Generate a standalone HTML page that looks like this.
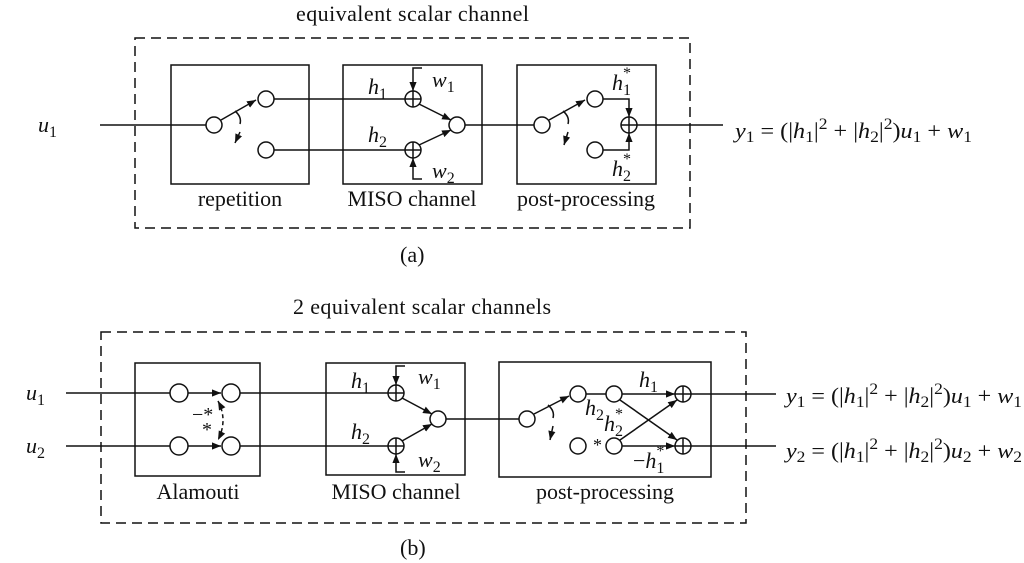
<!DOCTYPE html>
<html><head><meta charset="utf-8"><style>
html,body{margin:0;padding:0;background:#fff}
svg{display:block}
text{font-family:"Liberation Serif",serif;fill:#111}
.i{font-style:italic}
</style></head><body>
<svg width="1024" height="563" viewBox="0 0 1024 563" xmlns="http://www.w3.org/2000/svg">
<defs>
<marker id="a" viewBox="0 0 10 10" refX="10" refY="5" markerWidth="9" markerHeight="9" markerUnits="userSpaceOnUse" orient="auto"><path d="M0,1 L10,5 L0,9 z" fill="#111"/></marker>
<marker id="b" viewBox="0 0 10 10" refX="10" refY="5" markerWidth="9" markerHeight="9" markerUnits="userSpaceOnUse" orient="auto-start-reverse"><path d="M0,1 L10,5 L0,9 z" fill="#111"/></marker>
</defs>
<g stroke="#111" stroke-width="1.5" fill="none">
<!-- ===== (a) ===== -->
<rect x="135" y="38" width="555" height="190" stroke-dasharray="10,6"/>
<rect x="171" y="65" width="138" height="119"/>
<rect x="343" y="65" width="139" height="119"/>
<rect x="517" y="65" width="139" height="119"/>
<line x1="100" y1="125" x2="206" y2="125"/>
<circle cx="214" cy="125" r="8" fill="#fff"/>
<line x1="221" y1="120" x2="256" y2="100" marker-end="url(#a)"/>
<path d="M235,111 Q242,117 240,124"/>
<line x1="240" y1="132" x2="235" y2="143" marker-end="url(#a)"/>
<circle cx="266" cy="99" r="8" fill="#fff"/>
<circle cx="266" cy="150" r="8" fill="#fff"/>
<line x1="274" y1="99" x2="405" y2="99"/>
<line x1="274" y1="150" x2="405" y2="150"/>
<circle cx="413" cy="99" r="8" fill="#fff"/><line x1="405" y1="99" x2="421" y2="99"/><line x1="413" y1="91" x2="413" y2="107"/>
<circle cx="413" cy="150" r="8" fill="#fff"/><line x1="405" y1="150" x2="421" y2="150"/><line x1="413" y1="142" x2="413" y2="158"/>
<path d="M422,68 L413,68 L413,91" marker-end="url(#a)"/>
<path d="M422,179 L413,179 L413,158" marker-end="url(#a)"/>
<line x1="419" y1="104" x2="451" y2="120" marker-end="url(#a)"/>
<line x1="419" y1="145" x2="451" y2="130" marker-end="url(#a)"/>
<circle cx="457" cy="125" r="8" fill="#fff"/>
<line x1="465" y1="125" x2="534" y2="125"/>
<circle cx="542" cy="125" r="8" fill="#fff"/>
<line x1="549" y1="120" x2="585" y2="100" marker-end="url(#a)"/>
<path d="M563,111 Q570,117 568,124"/>
<line x1="568" y1="132" x2="564" y2="145" marker-end="url(#a)"/>
<circle cx="595" cy="99" r="8" fill="#fff"/>
<circle cx="595" cy="150" r="8" fill="#fff"/>
<path d="M603,99 L629,99 L629,117" marker-end="url(#a)"/>
<path d="M603,150 L629,150 L629,133" marker-end="url(#a)"/>
<circle cx="629" cy="125" r="8" fill="#fff"/><line x1="621" y1="125" x2="637" y2="125"/><line x1="629" y1="117" x2="629" y2="133"/>
<line x1="637" y1="125" x2="723" y2="125"/>

<!-- ===== (b) ===== -->
<rect x="101" y="332" width="645" height="191" stroke-dasharray="10,6"/>
<rect x="135" y="363" width="125" height="113"/>
<rect x="326" y="363" width="139" height="112"/>
<rect x="499" y="362" width="212" height="115"/>
<line x1="66" y1="393" x2="170" y2="393"/>
<line x1="66" y1="446" x2="170" y2="446"/>
<circle cx="179" cy="393" r="9" fill="#fff"/>
<circle cx="179" cy="446" r="9" fill="#fff"/>
<line x1="188" y1="393" x2="221" y2="393" marker-end="url(#a)"/>
<line x1="188" y1="446" x2="221" y2="446" marker-end="url(#a)"/>
<circle cx="231" cy="393" r="9" fill="#fff"/>
<circle cx="231" cy="446" r="9" fill="#fff"/>
<path d="M218,401 Q228,420 218,440" stroke-dasharray="4,3" marker-start="url(#b)" marker-end="url(#b)"/>
<line x1="240" y1="393" x2="388" y2="393"/>
<line x1="240" y1="446" x2="388" y2="446"/>
<circle cx="396" cy="393" r="8" fill="#fff"/><line x1="388" y1="393" x2="404" y2="393"/><line x1="396" y1="385" x2="396" y2="401"/>
<circle cx="396" cy="446" r="8" fill="#fff"/><line x1="388" y1="446" x2="404" y2="446"/><line x1="396" y1="438" x2="396" y2="454"/>
<path d="M405,366 L396,366 L396,385" marker-end="url(#a)"/>
<path d="M405,472 L396,472 L396,454" marker-end="url(#a)"/>
<line x1="402" y1="398" x2="432" y2="414" marker-end="url(#a)"/>
<line x1="402" y1="441" x2="432" y2="424" marker-end="url(#a)"/>
<circle cx="438" cy="419" r="8" fill="#fff"/>
<line x1="446" y1="419" x2="519" y2="419"/>
<circle cx="527" cy="419" r="8" fill="#fff"/>
<line x1="534" y1="414" x2="569" y2="396" marker-end="url(#a)"/>
<path d="M548,405 Q555,411 553,418"/>
<line x1="553" y1="426" x2="550" y2="440" marker-end="url(#a)"/>
<circle cx="578" cy="394" r="8" fill="#fff"/>
<circle cx="578" cy="446" r="8" fill="#fff"/>
<line x1="586" y1="394" x2="606" y2="394"/>
<circle cx="614" cy="394" r="8" fill="#fff"/>
<circle cx="614" cy="446" r="8" fill="#fff"/>
<line x1="622" y1="394" x2="675" y2="394" marker-end="url(#a)"/>
<line x1="622" y1="446" x2="675" y2="446" marker-end="url(#a)"/>
<line x1="620" y1="400" x2="677" y2="440" marker-end="url(#a)"/>
<line x1="620" y1="440" x2="677" y2="400" marker-end="url(#a)"/>
<circle cx="683" cy="394" r="8" fill="#fff"/><line x1="675" y1="394" x2="691" y2="394"/><line x1="683" y1="386" x2="683" y2="402"/>
<circle cx="683" cy="446" r="8" fill="#fff"/><line x1="675" y1="446" x2="691" y2="446"/><line x1="683" y1="438" x2="683" y2="454"/>
<line x1="691" y1="394" x2="776" y2="394"/>
<line x1="691" y1="446" x2="776" y2="446"/>
</g>

<g font-size="22">
<text x="296" y="21" textLength="233">equivalent scalar channel</text>
<text x="38" y="132" class="i">u<tspan font-size="16" dy="5" font-style="normal">1</tspan></text>
<text x="368" y="94" class="i">h<tspan font-size="16" dy="5" font-style="normal">1</tspan></text>
<text x="368" y="142" class="i">h<tspan font-size="16" dy="5" font-style="normal">2</tspan></text>
<text x="432" y="87" class="i">w<tspan font-size="16" dy="5" font-style="normal">1</tspan></text>
<text x="432" y="178" class="i">w<tspan font-size="16" dy="5" font-style="normal">2</tspan></text>
<text x="612" y="90" class="i">h<tspan font-size="16" dy="5" font-style="normal">1</tspan><tspan font-size="16" dx="-8" dy="-17" font-style="normal">*</tspan></text>
<text x="612" y="176" class="i">h<tspan font-size="16" dy="5" font-style="normal">2</tspan><tspan font-size="16" dx="-8" dy="-17" font-style="normal">*</tspan></text>
<text x="240" y="206" text-anchor="middle">repetition</text>
<text x="412" y="206" text-anchor="middle">MISO channel</text>
<text x="586" y="206" text-anchor="middle">post-processing</text>
<text x="735" y="138" textLength="237" lengthAdjust="spacingAndGlyphs"><tspan class="i">y</tspan><tspan font-size="16" dy="4">1</tspan><tspan dy="-4"> = (|</tspan><tspan class="i">h</tspan><tspan font-size="16" dy="4">1</tspan><tspan dy="-4">|</tspan><tspan font-size="16" dy="-9">2</tspan><tspan dy="9"> + |</tspan><tspan class="i">h</tspan><tspan font-size="16" dy="4">2</tspan><tspan dy="-4">|</tspan><tspan font-size="16" dy="-9">2</tspan><tspan dy="9">)</tspan><tspan class="i">u</tspan><tspan font-size="16" dy="4">1</tspan><tspan dy="-4"> + </tspan><tspan class="i">w</tspan><tspan font-size="16" dy="4">1</tspan></text>
<text x="400" y="262">(a)</text>

<text x="293" y="314" textLength="258">2 equivalent scalar channels</text>
<text x="26" y="400" class="i">u<tspan font-size="16" dy="5" font-style="normal">1</tspan></text>
<text x="26" y="453" class="i">u<tspan font-size="16" dy="5" font-style="normal">2</tspan></text>
<text x="192" y="421" font-size="20">−*</text>
<text x="202" y="436" font-size="20">*</text>
<text x="351" y="388" class="i">h<tspan font-size="16" dy="5" font-style="normal">1</tspan></text>
<text x="351" y="439" class="i">h<tspan font-size="16" dy="5" font-style="normal">2</tspan></text>
<text x="418" y="384" class="i">w<tspan font-size="16" dy="5" font-style="normal">1</tspan></text>
<text x="418" y="467" class="i">w<tspan font-size="16" dy="5" font-style="normal">2</tspan></text>
<text x="585" y="415" class="i">h<tspan font-size="16" dy="5" font-style="normal">2</tspan></text>
<text x="604" y="431" class="i">h<tspan font-size="16" dy="5" font-style="normal">2</tspan><tspan font-size="16" dx="-8" dy="-17" font-style="normal">*</tspan></text>
<text x="593" y="451" font-size="18">*</text>
<text x="639" y="387" class="i">h<tspan font-size="16" dy="5" font-style="normal">1</tspan></text>
<text x="633" y="468"><tspan>−</tspan><tspan class="i">h</tspan><tspan font-size="16" dy="5">1</tspan><tspan font-size="16" dx="-8" dy="-17">*</tspan></text>
<text x="198" y="499" text-anchor="middle">Alamouti</text>
<text x="396" y="499" text-anchor="middle">MISO channel</text>
<text x="605" y="499" text-anchor="middle">post-processing</text>
<text x="786" y="403" textLength="236" lengthAdjust="spacingAndGlyphs"><tspan class="i">y</tspan><tspan font-size="16" dy="4">1</tspan><tspan dy="-4"> = (|</tspan><tspan class="i">h</tspan><tspan font-size="16" dy="4">1</tspan><tspan dy="-4">|</tspan><tspan font-size="16" dy="-9">2</tspan><tspan dy="9"> + |</tspan><tspan class="i">h</tspan><tspan font-size="16" dy="4">2</tspan><tspan dy="-4">|</tspan><tspan font-size="16" dy="-9">2</tspan><tspan dy="9">)</tspan><tspan class="i">u</tspan><tspan font-size="16" dy="4">1</tspan><tspan dy="-4"> + </tspan><tspan class="i">w</tspan><tspan font-size="16" dy="4">1</tspan></text>
<text x="786" y="458" textLength="236" lengthAdjust="spacingAndGlyphs"><tspan class="i">y</tspan><tspan font-size="16" dy="4">2</tspan><tspan dy="-4"> = (|</tspan><tspan class="i">h</tspan><tspan font-size="16" dy="4">1</tspan><tspan dy="-4">|</tspan><tspan font-size="16" dy="-9">2</tspan><tspan dy="9"> + |</tspan><tspan class="i">h</tspan><tspan font-size="16" dy="4">2</tspan><tspan dy="-4">|</tspan><tspan font-size="16" dy="-9">2</tspan><tspan dy="9">)</tspan><tspan class="i">u</tspan><tspan font-size="16" dy="4">2</tspan><tspan dy="-4"> + </tspan><tspan class="i">w</tspan><tspan font-size="16" dy="4">2</tspan></text>
<text x="400" y="555">(b)</text>
</g>
</svg>
</body></html>
